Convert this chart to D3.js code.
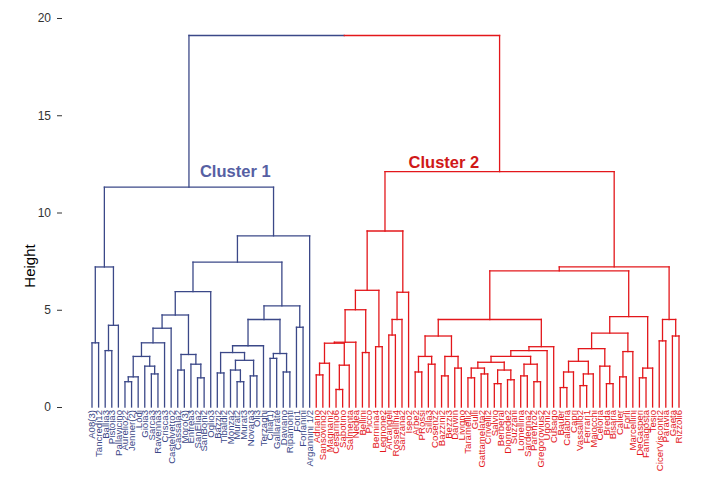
<!DOCTYPE html>
<html><head><meta charset="utf-8">
<script src="https://cdn.jsdelivr.net/npm/d3@7"></script>
<style>body{margin:0;background:#fff}svg{display:block}</style>
</head><body><svg id="c" width="703" height="478"></svg>
<script>
// leaf labels, left to right
const leafLabels = [
 "A08(3)","Tancredi12","Ballia3","Pistoia3","Pallavicino","Aurelio22","Jenner(2)","Lodi","Gioia3","Sarca3",
 "Ravenna3","Crisca3","Castelvetro2","Cassala2","Moro(3)","Enfrea3","SanElia2","SanBoni2","Oglio3","Bazzi2",
 "Tibaldi2","Monza2","Murat2","Murat3","Novara3","Oli3","Terzaghi","Cilia(1)","Gallarate","Daviano",
 "Ripamonti","Fori1","Forlanini","Argannini 1/2",
 "Adriano","Sansovino2","Magnani2","Cesarino6","Sabotino","Salmenta","Nedea","Bellini","Picco","Bernina4",
 "Legnone2","Arcangeli","Rossellini4","Sarzana2","Iseo2","Arbe2","PRossi","Silla3","Cosenz2","Bazzini2",
 "Bezzi3","Darwin","Livigno","Taramelli2","Gulli","Gattamelata2","Crivelli2","Salvio","Berberal","Diomede2",
 "Suzzani","Lomellina","Sardegna2","Parenzo2","Gregorovius2","Ugoni2","Cusago","Bauer","Calabria","Capri",
 "Vassallo2","Ferrari1","Maiocchi","Celoria","Breda","Bisaria","Calier","Forlì","Marcellini","DeGasperi",
 "Famagosta","Tesio","CicerVisconti2","Paravia","Gaeta","Rizzoli6"
];
// merge tree: [height, left, right]; numbers = leaf index
const cluster1Tree = [11.3,
  [7.2, [3.3, 0, 1], [4.2, [2.9, 2, 3], 4]],
  [8.8,
    [7.45,
      [5.93,
        [4.73,
          [4.05, [3.3, [2.6, [1.55, [1.3, 5, 6], 7], [2.1, 8, [1.7, 9, 10]]], 11], 12],
          [2.7, [1.9, 13, 14], [2.2, 15, [1.5, 16, 17]]]],
        18],
      [5.2,
        [4.5,
          [3.15, [2.8, [1.75, 19, 20], [2.4, [1.9, 21, [1.3, 22, 23]], [1.6, 24, 25]]], 26],
          [2.75, [2.5, 27, 28], [1.8, 29, 30]]],
        [4.1, 31, 32]]],
    33]];
const cluster2Tree = [12.1,
  [9.05,
    [6.0,
      [5.0, [3.33, [3.28, [2.25, [1.65, 34, 35], 36], [2.15, [0.9, 37, 38], 39]], 40], [2.8, 41, 42]],
      [3.1, 43, 44]],
    [5.9, [4.5, [3.7, 45, 46], 47], 48]],
  [7.2,
    [7.0,
      [4.5,
        [3.65, [2.6, [1.8, 49, 50], [2.2, 51, 52]], [2.6, [1.6, 53, 54], [2.0, 55, 56]]],
        [3.1,
          [2.9,
            [2.6, [2.3, [2.0, [1.5, 57, 58], [1.7, 59, 60]], [1.9, [1.2, 61, 62], [1.4, 63, 64]]],
                  [2.2, [1.6, 65, 66], [1.3, 67, 68]]],
            69],
          70]],
      [4.65,
        [3.8,
          [3.0, [2.35, [1.8, [1.0, 71, 72], 73], [1.7, [1.1, 74, 75], 76]], [2.1, 77, [1.2, 78, 79]]],
          [2.85, [1.55, 80, 81], 82]],
        [2.0, [1.5, 83, 84], 85]]],
    [4.5, [3.4, 86, 87], [3.65, 88, 89]]]];
const rootHeight = 19.1;
const yTicks = [0, 5, 10, 15, 20];
const clusterNames = ["Cluster 1", "Cluster 2"];
const clusterColors = ["#3b4888", "#e3171b"];
const clusterTextColors = ["#5660a3", "#d01818"];
const clusterTextHeights = [11.8, 12.3];

const svg = d3.select("#c");
const font = "Liberation Sans, Arial, Helvetica, sans-serif";

function toNode(t, cl) {
  if (typeof t === "number") return {leaf: t, h: 0, cl};
  return {h: t[0], cl, children: [toNode(t[1], cl), toNode(t[2], cl)]};
}
const rootData = {h: rootHeight, cl: -1, children: [toNode(cluster1Tree, 0), toNode(cluster2Tree, 1)]};
const root = d3.hierarchy(rootData);

const x = d3.scalePoint().domain(d3.range(leafLabels.length)).range([92, 679]);
const y = d3.scaleLinear().domain([0, 20]).range([407, 18]);

root.eachAfter(n => {
  if (n.children) n.px = d3.mean(n.children, c => c.px);
  else n.px = x(n.data.leaf);
  n.py = y(n.data.h);
});

const g = svg.append("g");
root.each(n => {
  if (!n.children) return;
  const [a, b] = n.children;
  if (n.data.cl === -1) {
    const mid = (a.px + b.px) / 2;
    g.append("line").attr("x1", a.px).attr("x2", mid).attr("y1", n.py).attr("y2", n.py).attr("stroke", clusterColors[0]);
    g.append("line").attr("x1", mid).attr("x2", b.px).attr("y1", n.py).attr("y2", n.py).attr("stroke", clusterColors[1]);
  } else {
    g.append("line").attr("x1", a.px).attr("x2", b.px).attr("y1", n.py).attr("y2", n.py).attr("stroke", clusterColors[n.data.cl]);
  }
  n.children.forEach(c => {
    g.append("line").attr("x1", c.px).attr("x2", c.px).attr("y1", n.py).attr("y2", c.py).attr("stroke", clusterColors[c.data.cl]);
  });
});
g.selectAll("line").attr("stroke-width", 1.3).attr("stroke-linecap", "square");

// leaf labels
root.leaves().forEach(l => {
  svg.append("text")
    .attr("transform", `translate(${l.px},${y(0) + 3}) rotate(-90)`)
    .attr("text-anchor", "end").attr("dy", "0.35em")
    .attr("font-family", font).attr("font-size", 9.6)
    .attr("fill", clusterColors[l.data.cl])
    .text(leafLabels[l.data.leaf]);
});

// y axis
const ax = svg.append("g").attr("transform", "translate(62,0)")
  .call(d3.axisLeft(y).tickValues(yTicks).tickSize(5).tickPadding(6));
ax.select(".domain").remove();
ax.selectAll(".tick line").attr("stroke", "#333");
ax.selectAll(".tick text").attr("font-family", font).attr("font-size", 12).attr("fill", "#333");

svg.append("text").attr("transform", "translate(35,266) rotate(-90)")
  .attr("text-anchor", "middle").attr("font-family", font).attr("font-size", 15).attr("fill", "#000")
  .text("Height");

// cluster annotations
const top1 = root.children[0], top2 = root.children[1];
svg.append("text").attr("x", top1.px + 11).attr("y", y(clusterTextHeights[0]))
  .attr("font-family", font).attr("font-weight", "bold").attr("font-size", 16.5)
  .attr("fill", clusterTextColors[0]).text(clusterNames[0]);
svg.append("text").attr("x", top2.px - 91).attr("y", y(clusterTextHeights[1]))
  .attr("font-family", font).attr("font-weight", "bold").attr("font-size", 16.5)
  .attr("fill", clusterTextColors[1]).text(clusterNames[1]);
</script></body></html>
